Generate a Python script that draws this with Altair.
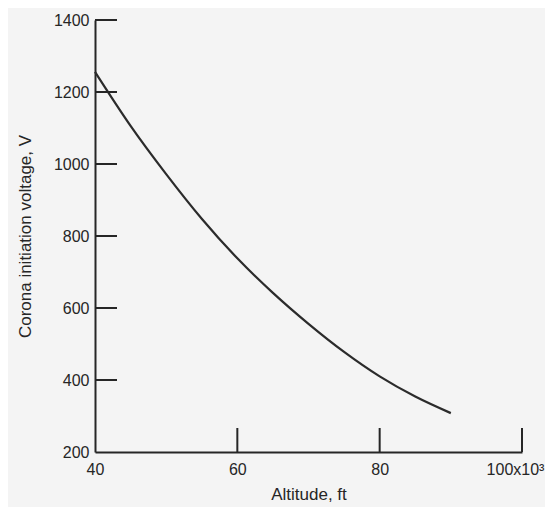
import altair as alt
import pandas as pd

altitude = [40, 45, 50, 55, 60, 65, 70, 75, 80, 85, 90]
voltage = [1256, 1106, 972, 848, 738, 642, 556, 478, 410, 354, 308]

y_ticks = [400, 600, 800, 1000, 1200, 1400]
y_labels = [200, 400, 600, 800, 1000, 1200, 1400]
x_ticks = [60, 80, 100]
x_labels = [40, 60, 80, 100]

W, H = 427, 432
LABEL_FONT = "Liberation Sans, Arial, sans-serif"
TITLE_FONT = "Liberation Sans, Arial, sans-serif"
INK = "#262626"

df = pd.DataFrame({"alt": altitude, "v": voltage})
yt = pd.DataFrame({"v": y_ticks})
xt = pd.DataFrame({"alt": x_ticks})

xscale = alt.Scale(domain=[40, 100], nice=False, zero=False)
yscale = alt.Scale(domain=[200, 1400], nice=False, zero=False)

xaxis = alt.Axis(
    values=x_labels, title="Altitude, ft", grid=False, ticks=False,
    labelExpr="datum.value == 100 ? '100x10³' : datum.label",
    labelOffset={"condition": {"test": "datum.value == 100", "value": -7}, "value": 0},
    labelPadding=9, titlePadding=9, labelFont=LABEL_FONT, labelFontSize=16,
    titleFont=TITLE_FONT, titleFontSize=17, titleFontWeight="normal",
    domainColor=INK, domainWidth=2, labelColor=INK, titleColor=INK,
    labelFlush=False,
)
yaxis = alt.Axis(
    values=y_labels, title="Corona initiation voltage, V", grid=False, ticks=False,
    labelPadding=6, titlePadding=19, labelFont=LABEL_FONT, labelFontSize=16,
    titleFont=TITLE_FONT, titleFontSize=17, titleFontWeight="normal",
    domainColor=INK, domainWidth=2, labelColor=INK, titleColor=INK,
    labelFlush=False, format="d",
)

line = alt.Chart(df).mark_line(color="#2b2b2b", strokeWidth=2.2, interpolate="monotone").encode(
    x=alt.X("alt:Q", scale=xscale, axis=xaxis),
    y=alt.Y("v:Q", scale=yscale, axis=yaxis),
)

ytick_rules = alt.Chart(yt).mark_rule(color=INK, strokeWidth=2).encode(
    y=alt.Y("v:Q", scale=yscale),
    x=alt.value(0),
    x2=alt.value(22),
)

xtick_rules = alt.Chart(xt).mark_rule(color=INK, strokeWidth=2).encode(
    x=alt.X("alt:Q", scale=xscale),
    y=alt.value(H),
    y2=alt.value(H - 24),
)

chart = alt.layer(line, ytick_rules, xtick_rules).properties(
    width=W, height=H,
    autosize=alt.AutoSizeParams(type="none"),
    padding={"left": 87, "top": 12, "right": 23, "bottom": 55},
    background="#f4f4f4",
).configure_view(stroke=None)

chart.save("out.html", embed_options={"renderer": "svg", "actions": False})
